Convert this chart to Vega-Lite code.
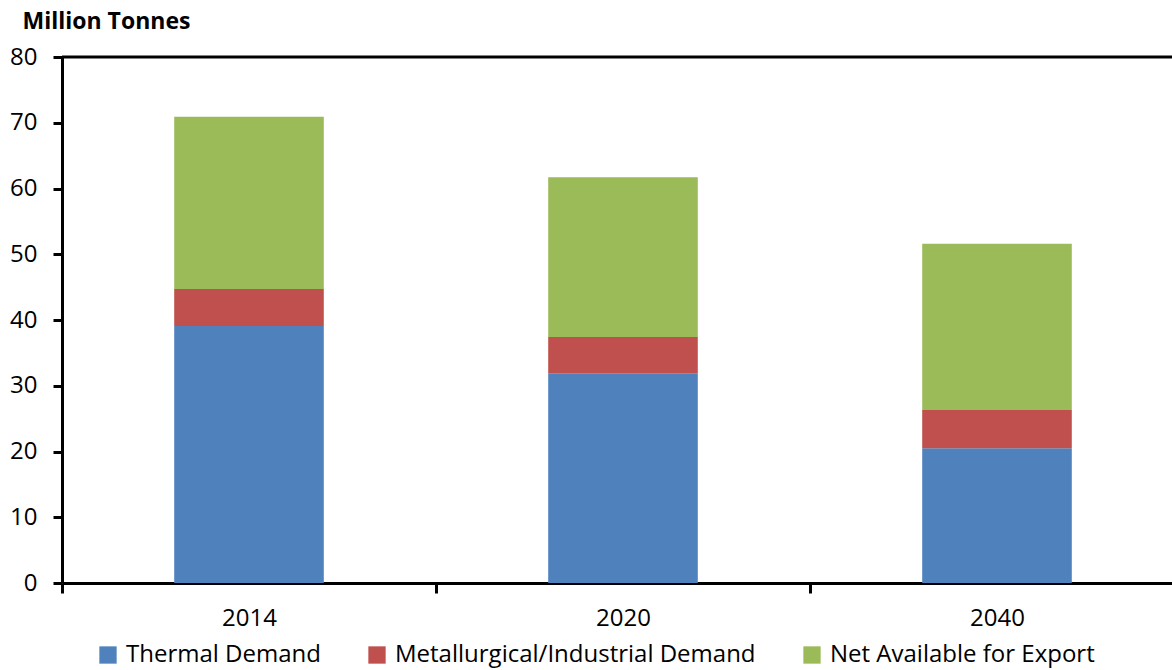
{
  "$schema": "https://vega.github.io/schema/vega-lite/v6.json",
  "width": 1110,
  "height": 526,
  "autosize": {"type": "none"},
  "padding": {"left": 62, "top": 57, "right": 0, "bottom": 87},
  "background": "white",
  "config": {"view": {"stroke": null}, "font": "Open Sans"},
  "layer": [
    {
      "data": {"values": [
        {"year": "2014", "series": "Thermal Demand", "value": 39.1, "order": 1},
        {"year": "2014", "series": "Metallurgical/Industrial Demand", "value": 5.6, "order": 2},
        {"year": "2014", "series": "Net Available for Export", "value": 26.2, "order": 3},
        {"year": "2020", "series": "Thermal Demand", "value": 31.9, "order": 1},
        {"year": "2020", "series": "Metallurgical/Industrial Demand", "value": 5.5, "order": 2},
        {"year": "2020", "series": "Net Available for Export", "value": 24.3, "order": 3},
        {"year": "2040", "series": "Thermal Demand", "value": 20.5, "order": 1},
        {"year": "2040", "series": "Metallurgical/Industrial Demand", "value": 5.8, "order": 2},
        {"year": "2040", "series": "Net Available for Export", "value": 25.3, "order": 3}
      ]},
      "mark": {"type": "bar", "width": {"band": 0.4}},
      "encoding": {
        "x": {
          "field": "year", "type": "nominal",
          "scale": {"range": [0, 1122], "paddingInner": 0, "paddingOuter": 0},
          "axis": {
            "title": null, "labelAngle": 0, "tickBand": "extent",
            "domainWidth": 3, "domainColor": "black",
            "tickColor": "black", "tickWidth": 3, "tickSize": 10,
            "labelFontSize": 24, "labelColor": "black", "labelPadding": 13,
            "labelFont": "Open Sans"
          }
        },
        "y": {
          "field": "value", "type": "quantitative", "stack": "zero",
          "scale": {"domain": [0, 80], "nice": false},
          "axis": {
            "values": [0, 10, 20, 30, 40, 50, 60, 70, 80],
            "grid": false,
            "domainWidth": 3, "domainColor": "black",
            "tickColor": "black", "tickWidth": 3, "tickSize": 9,
            "labelFontSize": 24, "labelColor": "black", "labelPadding": 16,
            "labelFont": "Open Sans",
            "title": "Million Tonnes", "titleAngle": 0, "titleAlign": "left",
            "titleBaseline": "alphabetic", "titleX": -40, "titleY": -29,
            "titleFontSize": 23, "titleFontWeight": "bold", "titleColor": "black",
            "titleFont": "Open Sans"
          }
        },
        "color": {
          "field": "series", "type": "nominal",
          "scale": {
            "domain": ["Thermal Demand", "Metallurgical/Industrial Demand", "Net Available for Export"],
            "range": ["#4F81BD", "#C0504D", "#9BBB59"]
          },
          "legend": {
            "orient": "none", "legendX": 34, "legendY": 586,
            "direction": "horizontal", "title": null,
            "symbolType": "square", "symbolSize": 300, "symbolStrokeWidth": 0,
            "symbolOpacity": 1, "labelLimit": 0,
            "labelFontSize": 24, "labelColor": "black", "labelFont": "Open Sans",
            "columnPadding": 44, "labelOffset": 6
          }
        },
        "order": {"field": "order", "type": "quantitative"}
      }
    },
    {
      "data": {"values": [{"top": 80}]},
      "mark": {"type": "rule", "strokeWidth": 3, "color": "black"},
      "encoding": {"y": {"field": "top", "type": "quantitative"}}
    }
  ]
}
